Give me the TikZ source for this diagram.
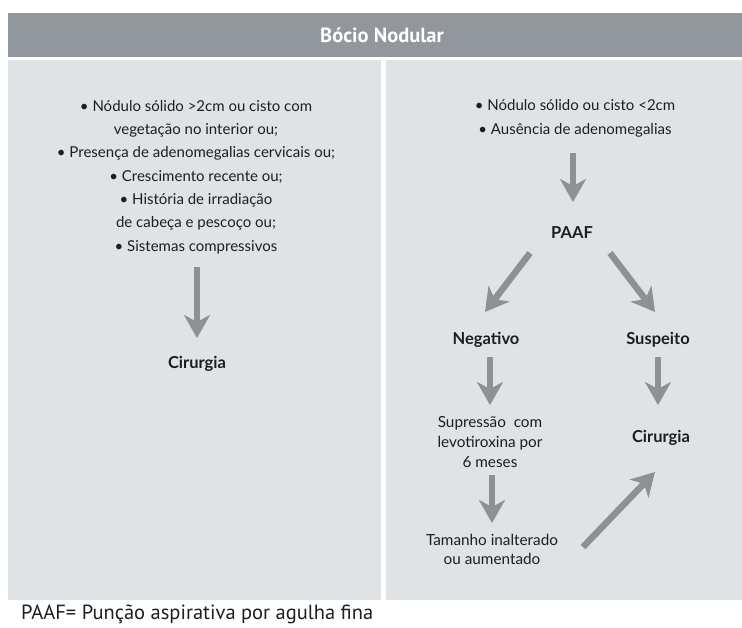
\documentclass[tikz,border=0pt]{standalone}
\usepackage{fontspec}
\setmainfont{Lato}
\newfontfamily\hdfont{PT Sans}
\usetikzlibrary{arrows.meta}
\definecolor{hdgray}{HTML}{92979E}
\definecolor{panelc}{HTML}{E0E3E6}
\definecolor{arrc}{HTML}{8C9196}
\definecolor{txtc}{HTML}{1E1E1E}
\begin{document}
\begin{tikzpicture}[x=1pt,y=-1pt,
  body/.style={text=txtc, font=\fontsize{15}{23.3}\selectfont, align=center, inner sep=0pt},
  boldlbl/.style={text=txtc, font=\fontsize{16.5}{18}\selectfont\bfseries, inner sep=0pt},
  flow/.style={draw=arrc, line width=6.5pt, -{Stealth[length=23pt,width=26pt,inset=7pt]}}]
\useasboundingbox (0,0) rectangle (742,627);
\fill[white] (0,0) rectangle (742,627);
% header
\fill[hdgray] (8,13) rectangle (742,57);
\node[text=white, font=\hdfont\fontsize{20.5}{22}\selectfont\bfseries, inner sep=0pt] (title) at (382,35) {Bócio Nodular};
% panels
\fill[panelc] (8,60) rectangle (381,600);
\fill[panelc] (386,60) rectangle (742,600);
% left column
\node[body] (crit) at (196,177) {• Nódulo sólido >2cm ou cisto com\\vegetação no interior ou;\\• Presença de adenomegalias cervicais ou;\\• Crescimento recente ou;\\• História de irradiação\\de cabeça e pescoço ou;\\• Sistemas compressivos};
\node[boldlbl] (cirL) at (197,364) {Cirurgia};
\coordinate (l1s) at (197,267);
\coordinate (l1e) at (197,338);
\draw[flow] (l1s) -- (l1e);
% right column
\node[body, font=\fontsize{15}{24}\selectfont] (small) at (575,118) {• Nódulo sólido ou cisto <2cm\\• Ausência de adenomegalias};
\node[boldlbl] (paaf) at (572,233) {PAAF};
\node[boldlbl] (neg) at (486,340) {Negativo};
\node[boldlbl] (susp) at (658,340) {Suspeito};
\node[body, font=\fontsize{15.3}{20}\selectfont] (supr) at (490,442) {Supressão~ com\\levotiroxina por\\6 meses};
\node[boldlbl] (cirR) at (661,438) {Cirurgia};
\node[body, font=\fontsize{15.3}{19.5}\selectfont] (tam) at (492,549.5) {Tamanho inalterado\\ou aumentado};
\coordinate (r1s) at (573,153);
\coordinate (r1e) at (573,202);
\coordinate (r2s) at (530,253);
\coordinate (r2e) at (485,312);
\coordinate (r3s) at (610,253);
\coordinate (r3e) at (655,312);
\coordinate (r4s) at (490,357);
\coordinate (r4e) at (490,405);
\coordinate (r5s) at (658,357);
\coordinate (r5e) at (658,405);
\coordinate (r6s) at (492,475);
\coordinate (r6e) at (492,523);
\coordinate (r7s) at (583,547);
\coordinate (r7e) at (655,472);
\draw[flow] (r1s) -- (r1e);
\draw[flow] (r2s) -- (r2e);
\draw[flow] (r3s) -- (r3e);
\draw[flow] (r4s) -- (r4e);
\draw[flow] (r5s) -- (r5e);
\draw[flow] (r6s) -- (r6e);
\draw[flow] (r7s) -- (r7e);
% footnote
\node[anchor=west, text=txtc, font=\hdfont\fontsize{20.5}{22}\selectfont, inner sep=0pt] (foot) at (21,614) {PAAF= Punção aspirativa por agulha fina};
\end{tikzpicture}
\end{document}
